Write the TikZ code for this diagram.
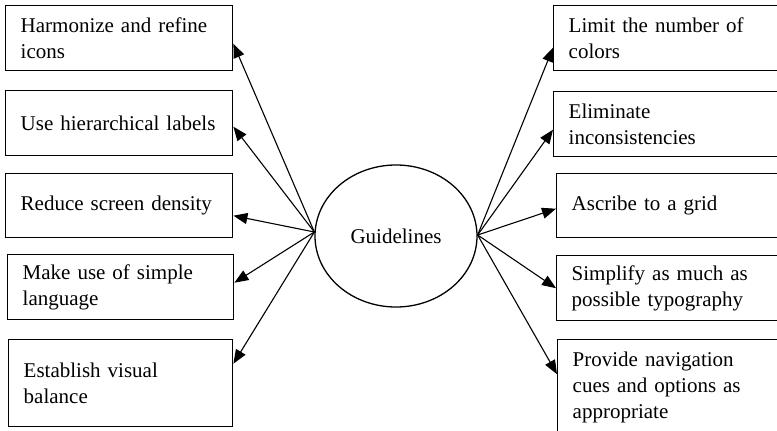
\documentclass[tikz,border=0pt]{standalone}
\usepackage{fontspec}
\setmainfont{Liberation Serif}
\usetikzlibrary{shapes.geometric,arrows.meta}
\begin{document}
\begin{tikzpicture}[x=1pt,y=-1pt,
  every node/.style={font=\fontsize{21}{26}\selectfont},
  lbox/.style={draw,line width=1.4pt,rectangle,anchor=north west,
    inner xsep=15pt,inner ysep=0pt,align=left},
  hub/.style={draw,line width=1.3pt,ellipse,inner sep=0pt,
    minimum width=162pt,minimum height=142pt},
  link/.style={line width=1.1pt,-{Triangle[length=14pt,width=11pt]}}]
\clip (0,0) rectangle (777,431);
\fill[white] (0,0) rectangle (777,431);

% central ellipse
\node[hub] (g) at (396,236) {Guidelines};
\coordinate (gl) at ([yshift=4pt]g.west);
\coordinate (gr) at ([yshift=1pt]g.east);

% left column
\node[lbox,text width=197pt,minimum height=65pt] (l1) at (5,5)
  {Harmonize and refine\\icons};
\node[lbox,text width=197pt,minimum height=65pt] (l2) at (5,90)
  {Use hierarchical labels};
\node[lbox,text width=197pt,minimum height=64pt] (l3) at (5,173)
  {Reduce screen density};
\node[lbox,text width=196pt,minimum height=65pt] (l4) at (7,254)
  {Make use of simple\\language};
\node[lbox,text width=194pt,minimum height=87pt] (l5) at (8,339)
  {Establish visual\\balance};

% right column (runs past the right edge)
\node[lbox,text width=207pt,minimum height=65pt] (r1) at (553,5)
  {Limit the number of\\colors};
\node[lbox,text width=207pt,minimum height=65pt] (r2) at (553,91)
  {Eliminate\\inconsistencies};
\node[lbox,text width=204pt,minimum height=64pt] (r3) at (556,173)
  {Ascribe to a grid};
\node[lbox,text width=204pt,minimum height=65pt] (r4) at (556,255)
  {Simplify as much as\\possible typography};
\node[lbox,text width=203pt,minimum height=95pt] (r5) at (557,339)
  {Provide navigation\\cues and options as\\appropriate};

% connectors
\draw[link] (gl) -- ([yshift=-5.5pt]l1.east);
\draw[link] (gl) -- ([yshift=-3.5pt]l2.east);
\draw[link] (gl) -- ([yshift=-10pt]l3.east);
\draw[link] (gl) -- ([yshift=4.5pt]l4.east);
\draw[link] (gl) -- ([yshift=19.5pt]l5.east);

\draw[link] (gr) -- ([yshift=-9.5pt]r1.west);
\draw[link] (gr) -- ([yshift=-5.5pt]r2.west);
\draw[link] (gr) -- ([yshift=-3pt]r3.west);
\draw[link] (gr) -- (r4.west);
\draw[link] (gr) -- ([yshift=13pt]r5.west);
\end{tikzpicture}
\end{document}
